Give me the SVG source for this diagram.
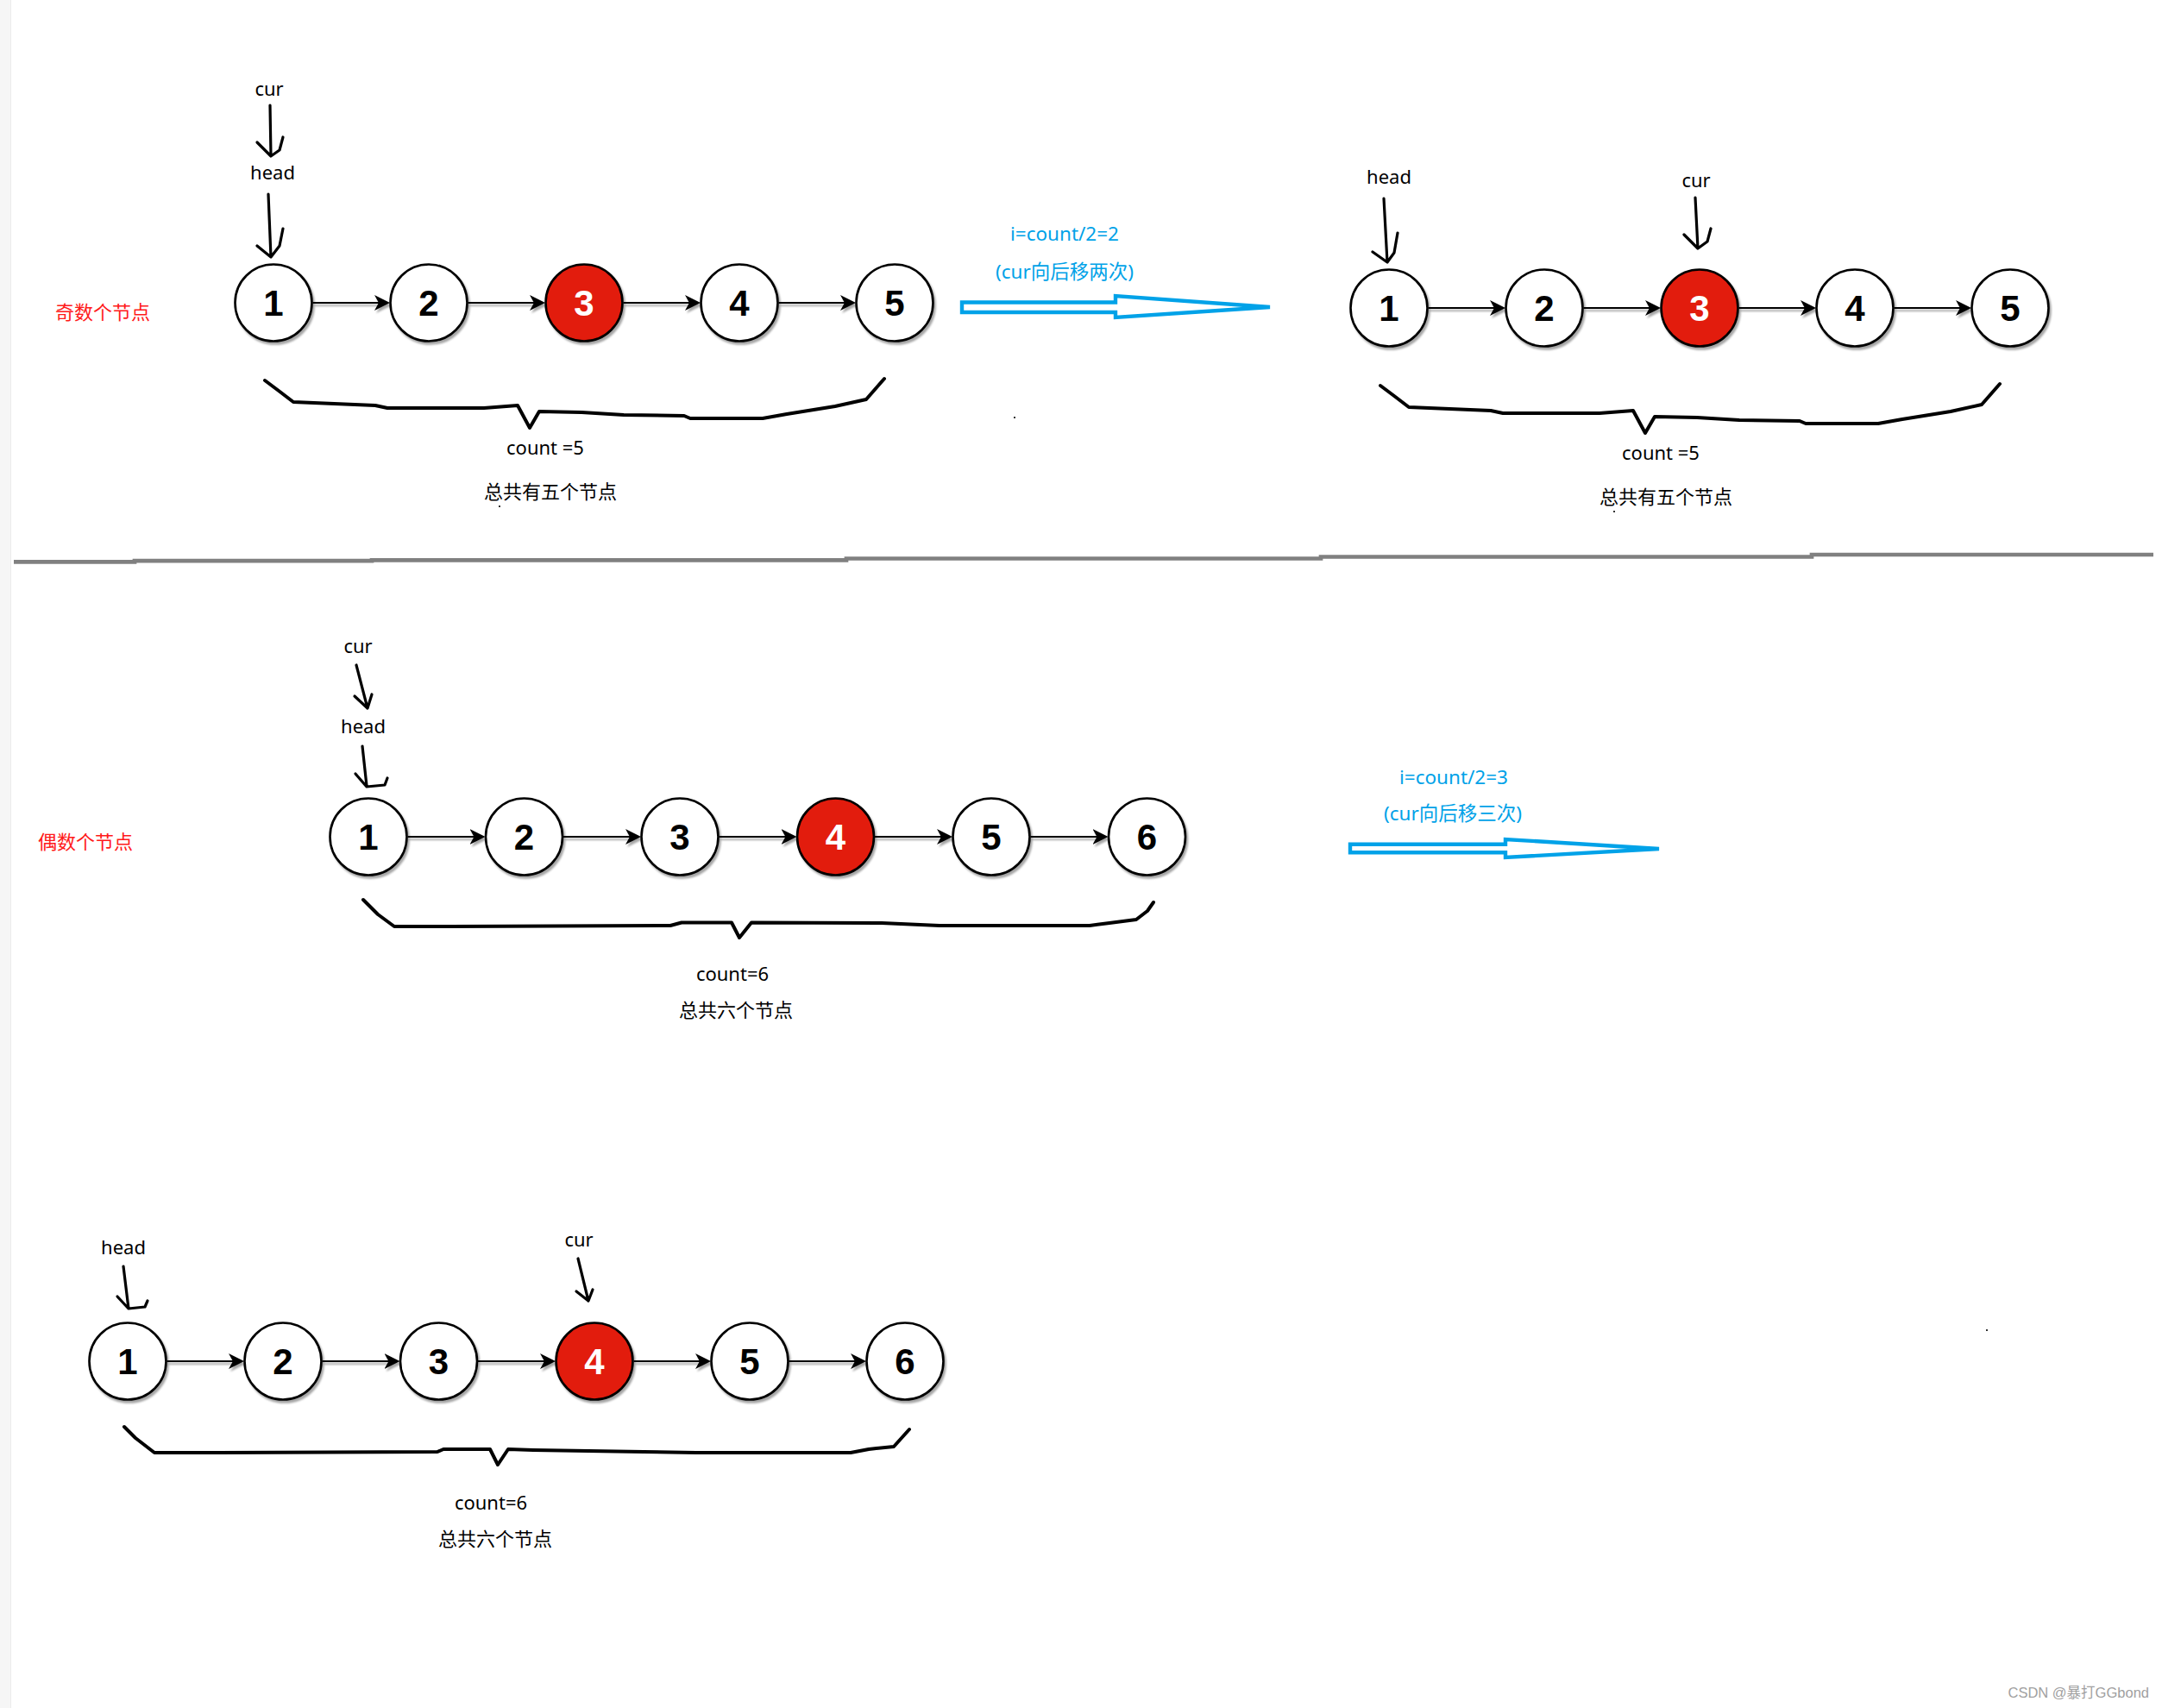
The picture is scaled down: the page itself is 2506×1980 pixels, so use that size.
<svg xmlns="http://www.w3.org/2000/svg" xmlns:xlink="http://www.w3.org/1999/xlink" width="2506" height="1980" viewBox="0 0 2506 1980">
<defs>
<style>
.n{fill:#fff;stroke:#000;stroke-width:2.6}
.r{fill:#e21a0a;stroke:#000;stroke-width:2.6}
.d{font-family:"Liberation Sans",Arial,sans-serif;font-weight:bold;font-size:42px;text-anchor:middle;fill:#000}
.dw{fill:#fff}
.c{fill:none;stroke:#000;stroke-width:2.2;marker-end:url(#ah)}
.t{font-family:"Noto Sans","Noto Sans CJK SC",sans-serif;font-size:22px;text-anchor:middle;fill:#000}
.red{fill:#ff1a1a}
.blue{fill:#00a2e8;font-size:22.5px}
.hand{fill:none;stroke:#000;stroke-width:3.2;stroke-linecap:round;stroke-linejoin:round}
.brace{fill:none;stroke:#000;stroke-width:4;stroke-linecap:round;stroke-linejoin:round}
.big{fill:#fff;stroke:#00a2e8;stroke-width:4.4;stroke-linejoin:miter}
</style>
<filter id="sh" x="-20%" y="-20%" width="150%" height="150%">
<feDropShadow dx="2" dy="3" stdDeviation="1.3" flood-color="#000" flood-opacity="0.35"/>
</filter>
<marker id="ah" viewBox="0 0 18 18" refX="12" refY="9" markerWidth="18" markerHeight="18" markerUnits="userSpaceOnUse" orient="auto">
<path d="M0,0 L18,9 L0,18 L5,9 Z" fill="#000"/>
</marker>
</defs>
<rect width="2506" height="1980" fill="#fff"/>
<rect x="0" y="0" width="12" height="1980" fill="#f6f6f6"/>
<line x1="12.5" y1="0" x2="12.5" y2="1980" stroke="#ececec" stroke-width="1"/>
<path d="M16,651.3 H156 V650.2 H431 V649.3 H981 V647.5 H1531 V645.5 H2100 V643 H2496" fill="none" stroke="#808080" stroke-width="4.7"/>

<g id="connectors">
<g filter="url(#sh)">
<path class="c" d="M362.5,351 H446"/>
<path class="c" d="M542.5,351 H626"/>
<path class="c" d="M722.5,351 H806"/>
<path class="c" d="M902.5,351 H986"/>
<path class="c" d="M1655.5,357 H1739"/>
<path class="c" d="M1835.5,357 H1919"/>
<path class="c" d="M2015.5,357 H2099"/>
<path class="c" d="M2195.5,357 H2279"/>
<path class="c" d="M472.5,970 H556.5"/>
<path class="c" d="M653,970 H737"/>
<path class="c" d="M833.5,970 H917.5"/>
<path class="c" d="M1014,970 H1098"/>
<path class="c" d="M1194.5,970 H1278.5"/>
<path class="c" d="M193.5,1578 H277"/>
<path class="c" d="M373.5,1578 H457.5"/>
<path class="c" d="M554,1578 H638"/>
<path class="c" d="M734.5,1578 H818"/>
<path class="c" d="M914.5,1578 H998"/>
</g>
<path class="hand" d="M313,122 L314,181 M298,165 L314,181 L324,174 L328,159"/>
<path class="hand" d="M311,225 L314,298 M298,285 L314,298 L324,285 L328,265"/>
<path class="hand" d="M1604,230 L1608,304 M1591,292 L1608,304 L1616,293 L1620,270"/>
<path class="hand" d="M1965,229 L1968,288 M1952,272 L1968,288 L1979,280 L1983,265"/>
<path class="hand" d="M413,771 L426,821 M411,807 L426,821 L431,805"/>
<path class="hand" d="M420,865 L425,911 M412,897 L425,912 L446,910 L449,902" stroke-width="4"/>
<path class="hand" d="M143,1468 L149,1517 M136,1503 L149,1517 L168,1515 L171,1508" stroke-width="4"/>
<path class="hand" d="M670,1459 L682,1508 M668,1497 L682,1508 L687,1495"/>
<path class="big" d="M1115,350.5 H1293 V343 L1472,356 L1293,368 V362 H1115 Z"/>
<path class="big" d="M1565,978.7 H1745 V973 L1923,984 L1745,994 V988.3 H1565 Z"/>
</g>

<g id="braces">
<polyline class="brace" points="307,441 323,453 340,466 435,470 449,473 561,473 600,470 614,496 625,477 674,478 723,481 793,482 800,485 884,485 912,480 968,471 1004,463 1025,439"/>
<polyline class="brace" transform="translate(1293,6)" points="307,441 323,453 340,466 435,470 449,473 561,473 600,470 614,496 625,477 674,478 723,481 793,482 800,485 884,485 912,480 968,471 1004,463 1025,439"/>
<polyline class="brace" points="421,1043 438,1060 457,1074 522,1074 777,1073 790,1069.5 848,1069.5 857,1087 871,1069.5 1022,1070 1089,1073 1263,1073 1286,1070 1317,1066 1330,1056 1337,1046"/>
<polyline class="brace" points="144,1654 157,1667 179,1684 243,1684 507,1683 514,1680 568,1680 577,1698 589,1680 618,1681 746,1683 807,1684 986,1684 1007,1680 1036,1677 1054,1657"/>
</g>

<g id="s1n1"><circle class="n" cx="317" cy="351" r="44.5" filter="url(#sh)"/><text class="d" x="317" y="366">1</text></g>
<g id="s1n2"><circle class="n" cx="497" cy="351" r="44.5" filter="url(#sh)"/><text class="d" x="497" y="366">2</text></g>
<g id="s1n3"><circle class="r" cx="677" cy="351" r="44.5" filter="url(#sh)"/><text class="d dw" x="677" y="366">3</text></g>
<g id="s1n4"><circle class="n" cx="857" cy="351" r="44.5" filter="url(#sh)"/><text class="d" x="857" y="366">4</text></g>
<g id="s1n5"><circle class="n" cx="1037" cy="351" r="44.5" filter="url(#sh)"/><text class="d" x="1037" y="366">5</text></g>

<g id="s2n1"><circle class="n" cx="1610" cy="357" r="44.5" filter="url(#sh)"/><text class="d" x="1610" y="372">1</text></g>
<g id="s2n2"><circle class="n" cx="1790" cy="357" r="44.5" filter="url(#sh)"/><text class="d" x="1790" y="372">2</text></g>
<g id="s2n3"><circle class="r" cx="1970" cy="357" r="44.5" filter="url(#sh)"/><text class="d dw" x="1970" y="372">3</text></g>
<g id="s2n4"><circle class="n" cx="2150" cy="357" r="44.5" filter="url(#sh)"/><text class="d" x="2150" y="372">4</text></g>
<g id="s2n5"><circle class="n" cx="2330" cy="357" r="44.5" filter="url(#sh)"/><text class="d" x="2330" y="372">5</text></g>

<g id="s3n1"><circle class="n" cx="427" cy="970" r="44.5" filter="url(#sh)"/><text class="d" x="427" y="985">1</text></g>
<g id="s3n2"><circle class="n" cx="607.5" cy="970" r="44.5" filter="url(#sh)"/><text class="d" x="607.5" y="985">2</text></g>
<g id="s3n3"><circle class="n" cx="788" cy="970" r="44.5" filter="url(#sh)"/><text class="d" x="788" y="985">3</text></g>
<g id="s3n4"><circle class="r" cx="968.5" cy="970" r="44.5" filter="url(#sh)"/><text class="d dw" x="968.5" y="985">4</text></g>
<g id="s3n5"><circle class="n" cx="1149" cy="970" r="44.5" filter="url(#sh)"/><text class="d" x="1149" y="985">5</text></g>
<g id="s3n6"><circle class="n" cx="1329.5" cy="970" r="44.5" filter="url(#sh)"/><text class="d" x="1329.5" y="985">6</text></g>

<g id="s4n1"><circle class="n" cx="148" cy="1578" r="44.5" filter="url(#sh)"/><text class="d" x="148" y="1593">1</text></g>
<g id="s4n2"><circle class="n" cx="328" cy="1578" r="44.5" filter="url(#sh)"/><text class="d" x="328" y="1593">2</text></g>
<g id="s4n3"><circle class="n" cx="508.5" cy="1578" r="44.5" filter="url(#sh)"/><text class="d" x="508.5" y="1593">3</text></g>
<g id="s4n4"><circle class="r" cx="689" cy="1578" r="44.5" filter="url(#sh)"/><text class="d dw" x="689" y="1593">4</text></g>
<g id="s4n5"><circle class="n" cx="869" cy="1578" r="44.5" filter="url(#sh)"/><text class="d" x="869" y="1593">5</text></g>
<g id="s4n6"><circle class="n" cx="1049" cy="1578" r="44.5" filter="url(#sh)"/><text class="d" x="1049" y="1593">6</text></g>

<g id="labels">
<text class="t" x="312" y="111">cur</text>
<text class="t" x="316" y="208">head</text>
<text class="t red" x="119" y="370">奇数个节点</text>
<text class="t" x="632" y="527">count =5</text>
<text class="t" x="638" y="578">总共有五个节点</text>
<text class="t blue" x="1234" y="279">i=count/2=2</text>
<text class="t blue" x="1234" y="323">(cur向后移两次)</text>
<text class="t" x="1610" y="213">head</text>
<text class="t" x="1966" y="217">cur</text>
<text class="t" x="1925" y="533">count =5</text>
<text class="t" x="1931" y="584">总共有五个节点</text>
<text class="t" x="415" y="757">cur</text>
<text class="t" x="421" y="850">head</text>
<text class="t red" x="99" y="984">偶数个节点</text>
<text class="t" x="849" y="1137">count=6</text>
<text class="t" x="853" y="1179">总共六个节点</text>
<text class="t blue" x="1685" y="909">i=count/2=3</text>
<text class="t blue" x="1684" y="951">(cur向后移三次)</text>
<text class="t" x="143" y="1454">head</text>
<text class="t" x="671" y="1445">cur</text>
<text class="t" x="569" y="1750">count=6</text>
<text class="t" x="574" y="1792">总共六个节点</text>
<text x="2491" y="1968" font-family="'Liberation Sans','Noto Sans CJK SC',sans-serif" font-size="16.5" fill="#a0a0a0" text-anchor="end">CSDN @暴打GGbond</text>
</g>
<g id="specks" fill="#333">
<rect x="578" y="586" width="2" height="2"/>
<rect x="1175" y="483" width="2" height="2"/>
<rect x="1870" y="592" width="2" height="2"/>
<rect x="2302" y="1541" width="2" height="2"/>
</g>
</svg>
